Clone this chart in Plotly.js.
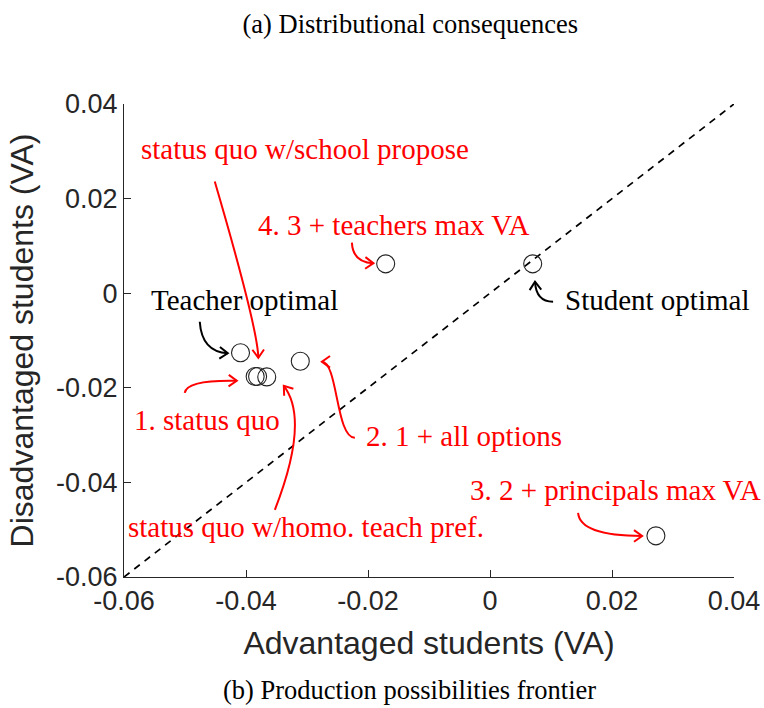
<!DOCTYPE html>
<html><head><meta charset="utf-8">
<script src="https://cdn.plot.ly/plotly-3.0.1.min.js"></script>
<style>html,body{margin:0;padding:0;background:#fff}</style>
</head><body><div id="chart" style="width:764px;height:708px"></div>
<script>
// ---- data ----
const pointLabels = ["Teacher optimal","1. status quo","status quo w/school propose","status quo w/homo. teach pref.","2. 1 + all options","4. 3 + teachers max VA","Student optimal","3. 2 + principals max VA"];
const advantagedVA = [-0.0409,-0.0385,-0.0381,-0.0366,-0.0311,-0.0171,0.0070,0.0272];
const disadvantagedVA = [-0.0126,-0.0176,-0.0176,-0.0177,-0.0144,0.0062,0.0062,-0.0513];
const diagX = [-0.06, 0.04];
const diagY = [-0.06, 0.04];
const tickVals = [-0.06,-0.04,-0.02,0,0.02,0.04];
const tickText = ["-0.06","-0.04","-0.02","0","0.02","0.04"];

// ---- label placement and arrows (annotation decoration) ----
const labelSpecs = [
  {text:"Teacher optimal", x:-0.0402, y:-0.0014, color:"#000",
   arrow:[[-0.04758,-0.00603],[-0.04725,-0.01238],[-0.04299,-0.0127]]},
  {text:"1. status quo", x:-0.0464, y:-0.0268, color:"#ff0000",
   arrow:[[-0.05004,-0.02106],[-0.04971,-0.01831],[-0.04151,-0.01852]]},
  {text:"status quo w/school propose", x:-0.0304, y:0.0304, color:"#ff0000",
   arrow:[[-0.04512,0.0236],[-0.03806,-0.00751],[-0.03798,-0.01365]]},
  {text:"status quo w/homo. teach pref.", x:-0.0302, y:-0.0494, color:"#ff0000",
   arrow:[[-0.03527,-0.04582],[-0.02953,-0.02677],[-0.0338,-0.01958]]},
  {text:"2. 1 + all options", x:-0.0043, y:-0.0302, color:"#ff0000",
   arrow:[[-0.02215,-0.03058],[-0.02527,-0.03058],[-0.02494,-0.0145],[-0.02756,-0.0145]]},
  {text:"4. 3 + teachers max VA", x:-0.0159, y:0.0145, color:"#ff0000",
   arrow:[[-0.02264,0.01069],[-0.02248,0.00646],[-0.01911,0.00635]]},
  {text:"Student optimal", x:0.0274, y:-0.0014, color:"#000",
   arrow:[[0.01034,-0.0018],[0.00755,-0.0018],[0.00738,0.00243]]},
  {text:"3. 2 + principals max VA", x:0.0205, y:-0.0416, color:"#ff0000",
   arrow:[[0.01444,-0.04646],[0.01477,-0.05132],[0.02494,-0.05132]]}
];

const W=764, H=708, mL=124, mR=30, mT=104, mB=131;
const xr=[-0.06,0.04], yr=[-0.06,0.04];
const kx=(W-mL-mR)/(xr[1]-xr[0]), ky=(H-mT-mB)/(yr[1]-yr[0]);
const serif='"Liberation Serif","Times New Roman",serif';

const shapes=[], annotations=[];
labelSpecs.forEach(s=>{
  annotations.push({x:s.x,y:s.y,xref:'x',yref:'y',text:s.text,showarrow:false,
    font:{family:serif,size:29,color:s.color},xanchor:'center',yanchor:'middle'});
  const p=s.arrow;
  let d='M'+p[0][0]+','+p[0][1];
  if(p.length===3) d+=' Q'+p[1][0]+','+p[1][1]+' '+p[2][0]+','+p[2][1];
  else d+=' C'+p[1][0]+','+p[1][1]+' '+p[2][0]+','+p[2][1]+' '+p[3][0]+','+p[3][1];
  shapes.push({type:'path',xref:'x',yref:'y',path:d,line:{color:s.color,width:2}});
  const E=p[p.length-1], C=p[p.length-2];
  let dx=(E[0]-C[0])*kx, dy=-(E[1]-C[1])*ky;
  const n=Math.hypot(dx,dy); dx/=n; dy/=n;
  const L=10, th=0.62;
  const arm=(a)=>{const c=Math.cos(a),sn=Math.sin(a);
    const rx=dx*c-dy*sn, ry=dx*sn+dy*c;
    return [E[0]-rx*L/kx, E[1]+ry*L/ky];};
  const A1=arm(th), A2=arm(-th);
  shapes.push({type:'path',xref:'x',yref:'y',
    path:'M'+A1[0]+','+A1[1]+' L'+E[0]+','+E[1]+' L'+A2[0]+','+A2[1],
    line:{color:s.color,width:2}});
});

annotations.push({xref:'paper',yref:'paper',x:0.468,y:-0.239,text:'(b) Production possibilities frontier',
  showarrow:false,font:{family:serif,size:26.5,color:'#000'},xanchor:'center',yanchor:'middle'});

const axisFont={family:'"Liberation Sans",Arial,Helvetica,sans-serif',size:27,color:'#262626'};
const titleFont={family:axisFont.family,size:32,color:'#262626'};
const traces=[
  {x:diagX,y:diagY,mode:'lines',line:{color:'#000',width:1.7,dash:'7px,6px'},hoverinfo:'skip',showlegend:false},
  {x:advantagedVA,y:disadvantagedVA,text:pointLabels,mode:'markers',
   marker:{symbol:'circle-open',size:18,color:'#222',line:{width:1.1,color:'#222'}},showlegend:false}
];
const layout={
  width:W,height:H,margin:{l:mL,r:mR,t:mT,b:mB},paper_bgcolor:'#fff',plot_bgcolor:'#fff',
  title:{text:'(a) Distributional consequences',xref:'container',yref:'container',x:0.537,y:0.966,
    xanchor:'center',yanchor:'middle',font:{family:serif,size:26.5,color:'#000'}},
  xaxis:{range:xr,tickvals:tickVals,ticktext:tickText,ticks:'inside',ticklen:7,tickwidth:1,tickcolor:'#262626',
    showline:true,linecolor:'#262626',linewidth:1,showgrid:false,zeroline:false,mirror:false,
    tickfont:axisFont,title:{text:'Advantaged students (VA)',font:titleFont,standoff:16}},
  yaxis:{range:yr,tickvals:tickVals,ticktext:tickText,ticks:'inside',ticklen:7,tickwidth:1,tickcolor:'#262626',
    showline:true,linecolor:'#262626',linewidth:1,showgrid:false,zeroline:false,mirror:false,
    tickfont:axisFont,title:{text:'Disadvantaged students (VA)',font:titleFont,standoff:12}},
  shapes:shapes,annotations:annotations,showlegend:false
};
Plotly.newPlot('chart',traces,layout,{displayModeBar:false,staticPlot:true});
</script></body></html>
